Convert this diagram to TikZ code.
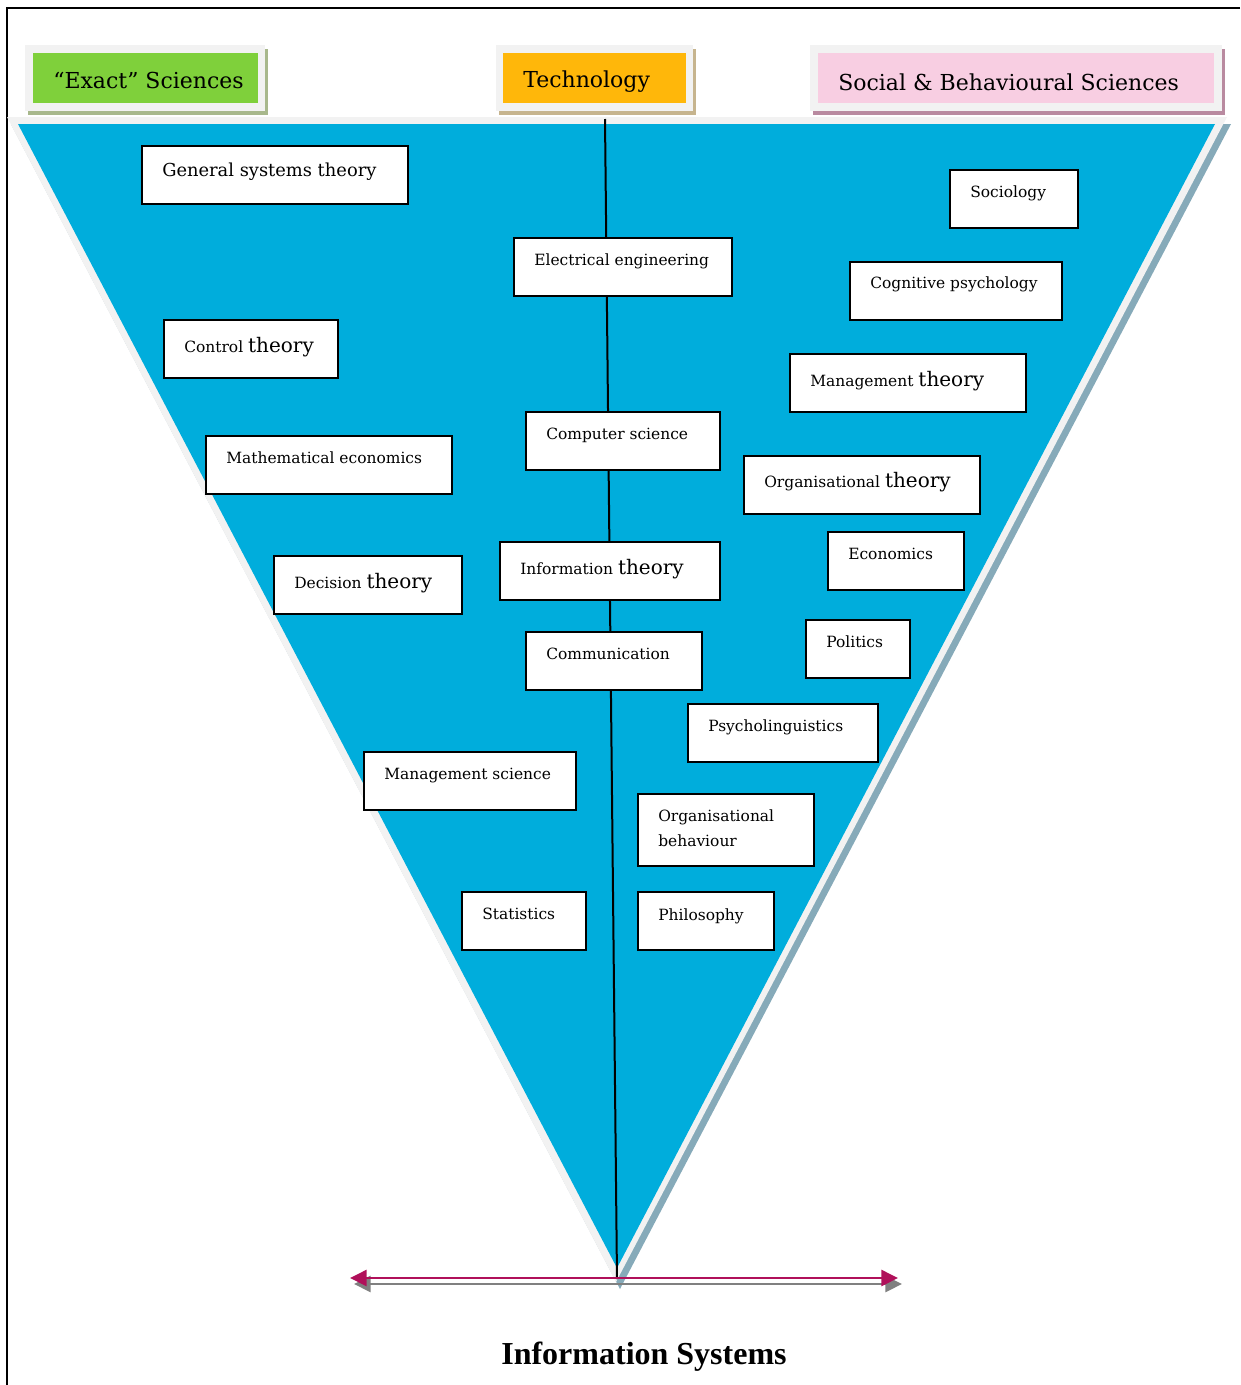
\documentclass[tikz,border=0pt]{standalone}
\usepackage{fontspec}
\setmainfont{DejaVu Serif}
\newfontfamily\tnr{Liberation Serif}
\usetikzlibrary{arrows.meta,calc}
\definecolor{tri}{RGB}{0,173,220}
\definecolor{band}{RGB}{242,242,242}
\definecolor{trishadow}{RGB}{134,170,185}
\definecolor{exgreen}{RGB}{127,208,59}
\definecolor{exshadow}{RGB}{168,184,140}
\definecolor{techorange}{RGB}{255,183,10}
\definecolor{techshadow}{RGB}{198,180,142}
\definecolor{socpink}{RGB}{248,206,226}
\definecolor{socshadow}{RGB}{185,138,160}
\definecolor{isarrow}{RGB}{176,16,90}
\definecolor{isshadow}{RGB}{128,128,128}
\newcommand\smtxt{\fontsize{11.6}{14}\selectfont}
\newcommand\thtxt{\fontsize{15}{18}\selectfont}
\newcommand\gsttxt{\fontsize{13.4}{16}\selectfont}
\newcommand\hdtxt{\fontsize{16.5}{20}\selectfont}
\newcommand\ibox[7]{%
  \node[ibox, minimum width={(#4-#2)*0.75pt}, minimum height={(#5-#3)*0.75pt}] (#1) at (#2,#3) {};
  \node[itext] (#1-t) at ($(#1.north west)+(21,#6)$) {#7};}
\tikzset{
  ibox/.style={draw=black, line width=1.5pt, fill=white, anchor=north west, inner sep=0pt},
  itext/.style={anchor=base west, inner sep=0pt, font=\smtxt},
  hdr/.style={anchor=north west, inner sep=0pt},
  htext/.style={anchor=base west, inner sep=0pt, font=\hdtxt},
  isarr/.style={line width=2pt, {Triangle[length=12.5pt,width=12pt]}-{Triangle[length=12.5pt,width=12pt]}}
}
\begin{document}
\begin{tikzpicture}[x=0.75pt,y=-0.75pt]
\useasboundingbox (0,0) rectangle (1240,1385);
% frame
\draw[line width=1.5pt] (1240,8) -- (7,8) -- (7,1385);
% header boxes
\fill[exshadow] (28,49) rectangle (268,115);
\fill[band] (25,45) rectangle (265,111);
\node[hdr, fill=exgreen, minimum width=225*0.75pt, minimum height=50*0.75pt] (exact) at (33,53) {};
\node[htext] (exact-t) at (53,88) {“Exact” Sciences};
\fill[techshadow] (499,49) rectangle (696,115);
\fill[band] (496,45) rectangle (693,111);
\node[hdr, fill=techorange, minimum width=183*0.75pt, minimum height=50*0.75pt] (tech) at (503,53) {};
\node[htext] (tech-t) at (523,87) {Technology};
\fill[socshadow] (813,49) rectangle (1225,115);
\fill[band] (810,45) rectangle (1222,111);
\node[hdr, fill=socpink, minimum width=396*0.75pt, minimum height=50*0.75pt] (soc) at (818,53) {};
\node[htext] (soc-t) at (838,90) {Social \& Behavioural Sciences};
% triangle
\fill[trishadow] (11,124) -- (1231,124) -- (620,1289) -- cycle;
\fill[band] (7,117) -- (1227,117) -- (616,1282) -- cycle;
\fill[tri] (18,124) -- (1215,124) -- (617,1268) -- cycle;
% central line
\coordinate (ltop) at (605,119);
\coordinate (lapex) at (617,1279);
\draw[line width=1.5pt] (ltop) -- (lapex);
% boxes
\ibox{gst}{141}{145}{407}{203}{31}{\gsttxt General systems theory}
\ibox{socio}{949}{169}{1077}{227}{28}{Sociology}
\ibox{ee}{513}{237}{731}{295}{28}{Electrical engineering}
\ibox{cog}{849}{261}{1061}{319}{27}{Cognitive psychology}
\ibox{ctl}{163}{319}{337}{377}{33}{Control {\thtxt theory}}
\ibox{mgt}{789}{353}{1025}{411}{33}{Management {\thtxt theory}}
\ibox{cs}{525}{411}{719}{469}{28}{Computer science}
\ibox{me}{205}{435}{451}{493}{28}{Mathematical economics}
\ibox{org}{743}{455}{979}{513}{32}{Organisational {\thtxt theory}}
\ibox{eco}{827}{531}{963}{589}{28}{Economics}
\ibox{dec}{273}{555}{461}{613}{33}{Decision {\thtxt theory}}
\ibox{inf}{499}{541}{719}{599}{33}{Information {\thtxt theory}}
\ibox{pol}{805}{619}{909}{677}{28}{Politics}
\ibox{com}{525}{631}{701}{689}{28}{Communication}
\ibox{psy}{687}{703}{877}{761}{28}{Psycholinguistics}
\ibox{ms}{363}{751}{575}{809}{28}{Management science}
\ibox{ob}{637}{793}{813}{865}{28}{Organisational}
\node[itext] (ob-t2) at ($(ob.north west)+(21,53)$) {behaviour};
\ibox{sta}{461}{891}{585}{949}{28}{Statistics}
\ibox{phi}{637}{891}{773}{949}{29}{Philosophy}
% bottom double arrow
\coordinate (sl) at (354,1284);
\coordinate (sr) at (902,1284);
\coordinate (al) at (350,1278);
\coordinate (ar) at (898,1278);
\draw[isarr, isshadow] (sl) -- (sr);
\draw[isarr, isarrow] (al) -- (ar);
% title
\node[anchor=base, inner sep=0pt, font=\tnr\bfseries\fontsize{24}{28}\selectfont] (title) at (644,1364) {Information Systems};
\end{tikzpicture}
\end{document}
